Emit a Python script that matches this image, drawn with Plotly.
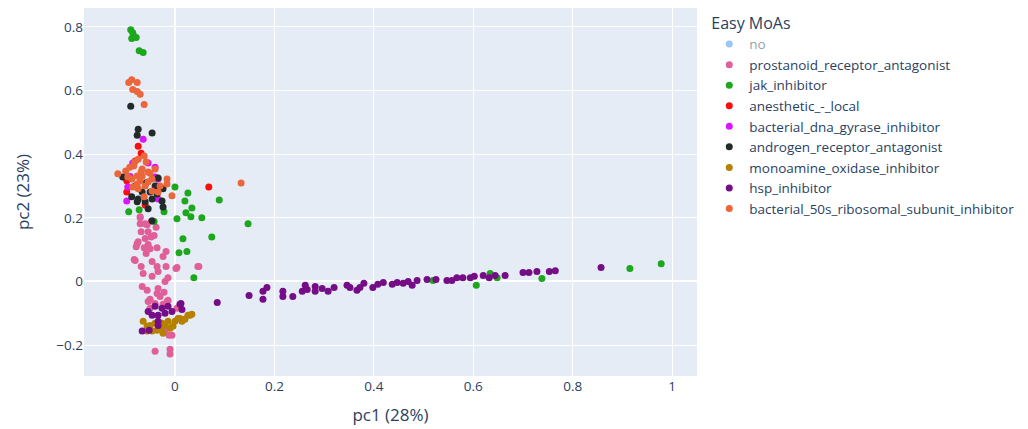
import plotly.graph_objects as go

# Series names in legend order
moa_names = [
    "no",
    "prostanoid_receptor_antagonist",
    "jak_inhibitor",
    "anesthetic_-_local",
    "bacterial_dna_gyrase_inhibitor",
    "androgen_receptor_antagonist",
    "monoamine_oxidase_inhibitor",
    "hsp_inhibitor",
    "bacterial_50s_ribosomal_subunit_inhibitor",
]
moa_colors = ["#2E91E5", "#E15F99", "#1CA71C", "#FB0D0D", "#DA16FF",
              "#222A2A", "#B68100", "#750D86", "#EB663B"]

# "no" group is toggled off in the legend, so it carries no visible points
no_pc1 = [None]
no_pc2 = [None]

prostanoid_pc1 = [-0.070, -0.060, -0.068, -0.054, -0.042, -0.074, -0.054, -0.062, -0.050, -0.036,
                  -0.078, -0.058, -0.018, -0.024, -0.080, -0.046, -0.068, -0.036, -0.018, 0.002,
                  0.048, -0.034, -0.064, -0.046, -0.014, -0.020, -0.066, -0.034, -0.056, -0.022,
                  -0.030, -0.050, -0.014, -0.040, -0.024, -0.070, -0.048, 0.004, 0.046, -0.076,
                  -0.082, -0.040, -0.010, -0.010, -0.012, -0.054, -0.016, -0.050, -0.006, -0.020,
                  0.004, -0.036, -0.070, -0.056, -0.048, -0.060, -0.038]
prostanoid_pc2 = [0.181, 0.181, 0.156, 0.156, 0.144, 0.125, 0.116, 0.106, 0.103, 0.106,
                  0.109, 0.088, 0.094, 0.078, 0.066, 0.063, 0.047, 0.047, 0.047, 0.041,
                  0.047, 0.031, 0.025, 0.016, 0.012, 0.000, -0.016, -0.022, -0.028, -0.034,
                  -0.047, -0.056, -0.059, -0.069, -0.072, 0.203, 0.188, 0.044, 0.047, 0.119,
                  0.069, -0.219, -0.213, -0.228, -0.169, -0.063, -0.063, -0.084, -0.169, -0.153,
                  -0.084, -0.038, 0.200, 0.178, 0.140, 0.135, 0.170]

jak_pc1 = [-0.089, -0.085, -0.078, -0.087, -0.083, -0.072, -0.064,
           0.000, 0.026, 0.020, 0.034, 0.089, 0.022, 0.032, 0.054, 0.004, 0.147,
           0.016, 0.074, 0.008, 0.024, 0.038,
           -0.093, -0.072, -0.022, -0.042,
           0.606, 0.634, 0.648, 0.738, 0.915, 0.978, 0.519]
jak_pc2 = [0.791, 0.781, 0.766, 0.763, 0.772, 0.725, 0.719,
           0.297, 0.278, 0.253, 0.231, 0.256, 0.216, 0.203, 0.200, 0.197, 0.181,
           0.134, 0.140, 0.090, 0.094, 0.012,
           0.219, 0.225, 0.219, 0.188,
           -0.012, 0.025, 0.012, 0.009, 0.041, 0.056, 0.003]

anesthetic_pc1 = [-0.074, -0.068, -0.080, 0.068, -0.097, -0.097, -0.060]
anesthetic_pc2 = [0.425, 0.403, 0.378, 0.297, 0.281, 0.316, 0.240]

gyrase_pc1 = [-0.064, -0.085, -0.095, -0.097, -0.036, -0.034, -0.054, -0.040, -0.040, -0.034, -0.090]
gyrase_pc2 = [0.447, 0.372, 0.297, 0.253, 0.300, 0.259, 0.372, 0.328, 0.359, 0.322, 0.330]

androgen_pc1 = [-0.089, -0.074, -0.076, -0.046,
                -0.105, -0.087, -0.074, -0.066, -0.046, -0.036, -0.024, -0.024, -0.046,
                -0.034, -0.040, -0.076, -0.060, -0.054, -0.026, -0.050, -0.080, -0.058]
androgen_pc2 = [0.550, 0.478, 0.459, 0.466,
                0.328, 0.266, 0.259, 0.281, 0.259, 0.275, 0.291, 0.234, 0.191,
                0.325, 0.300, 0.250, 0.250, 0.228, 0.253, 0.281, 0.300, 0.310]

monoamine_pc1 = [-0.064, -0.056, -0.046, -0.030, -0.024, -0.010, -0.014, 0.000, 0.010, 0.020,
                 0.030, 0.034, -0.040, -0.056, -0.026, -0.004, 0.014, -0.020, -0.050, -0.036,
                 0.026, 0.006]
monoamine_pc2 = [-0.125, -0.141, -0.156, -0.147, -0.163, -0.147, -0.125, -0.125, -0.116, -0.119,
                 -0.106, -0.103, -0.131, -0.156, -0.131, -0.141, -0.125, -0.138, -0.138, -0.153,
                 -0.106, -0.116]

hsp_pc1 = [-0.054, -0.040, -0.026, -0.014, -0.006, 0.012, 0.014, -0.034, -0.046, -0.020,
           -0.034, -0.066, -0.052, -0.034, 0.010, 0.085,
           0.149, 0.177, 0.177, 0.185, 0.217, 0.217, 0.237, 0.256, 0.262, 0.266,
           0.282, 0.282, 0.296, 0.308, 0.320, 0.346, 0.352, 0.366, 0.372, 0.380,
           0.398, 0.408, 0.419, 0.437, 0.447, 0.459, 0.469, 0.477, 0.487, 0.507,
           0.525, 0.547, 0.557, 0.567, 0.579, 0.594, 0.602, 0.620, 0.632, 0.644,
           0.664, 0.700, 0.712, 0.728, 0.753, 0.765, 0.857]
hsp_pc2 = [-0.094, -0.078, -0.084, -0.078, -0.094, -0.069, -0.088, -0.106, -0.106, -0.100,
           -0.125, -0.156, -0.153, -0.138, -0.072, -0.066,
           -0.044, -0.056, -0.031, -0.019, -0.031, -0.047, -0.047, -0.031, -0.012, -0.025,
           -0.016, -0.031, -0.022, -0.031, -0.019, -0.012, -0.019, -0.028, -0.019, -0.006,
           -0.019, -0.009, -0.003, -0.009, -0.003, -0.006, 0.000, -0.012, 0.003, 0.006,
           0.006, 0.003, 0.003, 0.012, 0.012, 0.012, 0.016, 0.019, 0.012, 0.019,
           0.019, 0.028, 0.028, 0.031, 0.031, 0.034, 0.044]

ribosomal_pc1 = [-0.087, -0.076, -0.093, -0.085, -0.076, -0.070, -0.062,
                 -0.115, -0.099, -0.091, -0.081, -0.074, -0.062, -0.058, -0.066, -0.076,
                 -0.087, -0.070, -0.054, -0.046, -0.060, -0.074, -0.085, -0.046, -0.034,
                 -0.016, -0.016, -0.006, -0.040, -0.062, -0.083, -0.095, -0.066, -0.054,
                 -0.076, -0.030, 0.133, -0.050, -0.068]
ribosomal_pc2 = [0.634, 0.625, 0.625, 0.603, 0.597, 0.588, 0.556,
                 0.338, 0.347, 0.359, 0.375, 0.384, 0.394, 0.375, 0.353, 0.331,
                 0.322, 0.316, 0.344, 0.322, 0.300, 0.291, 0.297, 0.284, 0.281,
                 0.306, 0.322, 0.269, 0.353, 0.266, 0.363, 0.328, 0.331, 0.313,
                 0.306, 0.300, 0.309, 0.340, 0.345]

series_pc1 = [no_pc1, prostanoid_pc1, jak_pc1, anesthetic_pc1, gyrase_pc1,
              androgen_pc1, monoamine_pc1, hsp_pc1, ribosomal_pc1]
series_pc2 = [no_pc2, prostanoid_pc2, jak_pc2, anesthetic_pc2, gyrase_pc2,
              androgen_pc2, monoamine_pc2, hsp_pc2, ribosomal_pc2]

fig = go.Figure()
for name, color, xs, ys in zip(moa_names, moa_colors, series_pc1, series_pc2):
    fig.add_trace(go.Scatter(
        x=xs, y=ys, mode="markers", name=name,
        marker=dict(color=color, size=7),
        visible="legendonly" if name == "no" else True,
    ))

fig.update_layout(
    width=1028, height=429,
    margin=dict(l=84, r=331, t=8, b=51),
    font=dict(size=13.5),
    legend=dict(title=dict(text="Easy MoAs")),
    xaxis=dict(title=dict(text="pc1 (28%)", font=dict(size=17)), range=[-0.183, 1.05]),
    yaxis=dict(title=dict(text="pc2 (23%)", font=dict(size=17), standoff=22),
               range=[-0.297, 0.859]),
)

fig.write_html("out.html")
